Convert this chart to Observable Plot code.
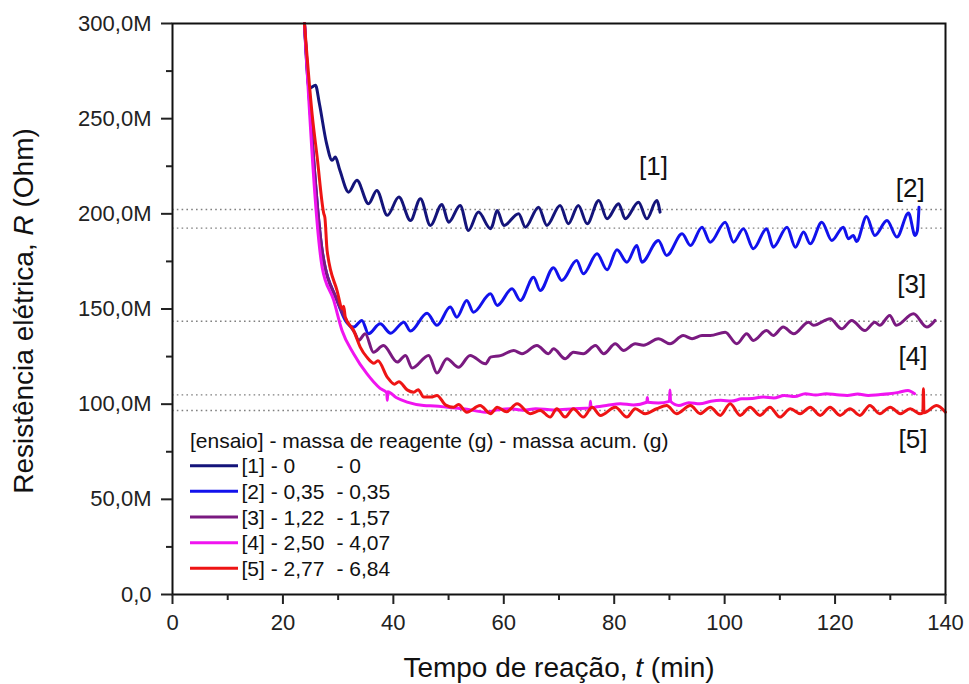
<!DOCTYPE html>
<html><head><meta charset="utf-8">
<script src="https://cdn.jsdelivr.net/npm/d3@7"></script>
<script src="https://cdn.jsdelivr.net/npm/@observablehq/plot@0.6"></script>
<style>body{margin:0;background:#fff} svg{display:block}</style>
</head><body><div id="chart"></div>
<script>
// ---- data (t in min, R in MOhm) ----
const s1T = [23.9,24.8,25.9,26.6,27.9,28.9,29.5,30.3,31.9,33.4,35.5,37.0,38.9,41.0,43.1,44.9,46.7,48.8,50.0,52.1,53.6,55.4,57.6,57.9,58.8,60.0,62.7,63.9,66.3,67.8,70.2,71.7,73.5,75.1,77.2,78.7,80.8,82.0,84.4,85.9,87.7,88.3];
const s1R = [300,266,267.5,258,237.0,228.1,229.8,223,211.4,217.6,205.3,212.3,199.2,208.8,196.5,207.9,193.9,204.9,195.6,204.4,191.3,200.9,192.2,193.5,201.8,193.9,200.1,193.0,203.5,193.9,204.4,194.8,204.4,194.8,207.0,197.4,205.3,197.4,206.1,197.4,207.0,200.9];

const s2T = [23.9,27.1,29.8,31.3,32.8,34.3,35.5,37.6,39.5,41.9,43.1,46.1,47.9,50.3,51.5,53.3,54.5,57.6,58.8,61.5,63.0,65.4,66.6,69.0,70.5,73.2,74.4,76.9,78.7,80.5,82.3,84.1,85.0,88.0,89.5,92.3,93.8,95.9,97.4,100.1,101.6,103.4,105.2,107.6,108.8,111.3,112.8,114.3,115.5,117.6,119.4,121.5,122.4,123.3,123.9,125.7,127.2,129.4,131.2,133.3,134.5,134.9,135.2];
const s2R = [300,180.8,154.5,144.0,140.5,144.0,137.0,142.2,137.3,143.1,138.4,147.8,141.4,151.0,145.7,154.5,148.3,158.0,151.9,160.6,154.5,166.7,159.7,171.7,165.0,175.5,168.5,179.0,170.6,181.1,174.6,183.4,174.6,186.0,178.1,189.5,183.4,193.0,185.1,195.6,185.1,192.2,181.7,192.2,182.5,193.0,182.5,190.4,184.3,195.6,186.0,193.0,186.9,188.6,185.5,198.6,188.6,196.5,187.8,200.4,188.6,191,203.4];

const s3T = [23.9,27.1,29.8,31.6,33.1,33.7,34.9,36.4,38.2,40.7,42.2,43.4,46.4,47.9,49.7,51.8,53.9,56.7,57.6,59.4,61.8,63.3,66.0,68.1,69.0,71.1,72.6,74.4,76.6,78.1,80.2,81.7,83.8,85.3,88.0,90.1,92.5,94.1,95.9,97.4,100.1,102.2,104.0,105.2,107.6,108.8,110.6,112.5,115.2,116.1,119.1,121.2,123.0,125.4,127.2,128.1,129.9,131.1,134.2,136.6,138.1];
const s3R = [300,180.8,154.5,143.5,137.0,133.5,137.0,127.3,130.8,122.1,125.6,119.0,125.6,116.4,123.9,119.4,125.6,121.2,124.7,125.5,128.2,126.5,130.8,126.5,129.1,123.9,127.3,126.5,130.8,126.5,131.7,128.2,131.7,131.0,134.4,131.7,136.1,134.4,136.1,136.1,137.8,131.7,137.0,133.5,138.7,136.1,140.5,137.0,143.1,141.4,144.9,139.6,144.0,138.7,143.1,141.4,146.6,141.4,147.5,140.5,144.0];

const s4T = [23.9,27.1,29.2,30.7,32.8,35.2,37.6,38.8,38.9,39.0,40.5,42.5,45.5,47.5,49.8,53.0,56.7,59.0,61.2,63.5,65.8,69.0,72.7,75.6,75.7,75.8,76.5,78.8,81.1,83.5,85.9,86.0,86.1,88.0,90.0,90.1,90.2,91.7,93.5,95.5,97.5,99.3,101.2,103.1,105.0,107.0,108.9,110.8,112.7,114.6,116.5,118.4,120.3,122.2,124.1,126.0,127.9,129.8,131.5,133.2,134.4];
const s4R = [300,172.0,154.5,138.7,126.5,116.0,108.3,106.0,102.0,106.5,103.5,101.1,99.3,99.0,98.4,97.5,95.8,97.0,97.6,96.8,97.6,97.0,97.6,98.0,101.5,98.0,98.4,99.4,100.2,99.6,101.0,103.5,101.0,100.6,101.5,107.5,101.5,99.3,100.8,100.2,101.5,102.0,101.6,102.8,103.0,103.7,103.2,104.6,104.0,105.5,104.8,105.5,105.0,104.6,105.3,104.6,105.0,105.5,106.2,107.2,105.5];

const s5T = [23.9,25.3,26.2,27.4,27.6,28.0,29.8,30.8,31.0,31.3,32.8,34.0,35.2,36.5,37.2,38.9,40.2,41.0,42.5,43.7,44.5,45.5,46.8,47.9,49.5,50.9,51.8,53.3,55.7,57.6,58.8,60.5,62.4,64.8,66.6,68.4,69.6,71.1,72.6,74.4,76.0,77.5,80.2,82.3,83.8,85.6,87.7,89.5,91.3,93.8,95.6,97.4,99.2,101.0,102.8,104.6,106.4,108.2,110.0,111.9,113.7,115.5,117.3,119.1,120.9,122.7,124.5,126.3,128.1,130.0,131.8,133.6,135.4,135.9,136.0,136.1,138.4,140.0];
const s5R = [300,252,229.8,200.1,198,180.8,159.7,150,151.5,145.7,138.7,130.0,124.7,121.5,122.8,114.2,110.5,111.8,107.5,106.3,107.6,103.7,103.7,104.6,99.5,98.4,99.8,95.8,99.3,95.0,98.4,96.0,100.2,95.0,96.7,93.2,97.6,93.2,97.6,93.2,98.4,94.1,98.4,93.2,97.6,95.0,97.6,99.3,95.0,99.3,95.0,98.4,94.1,100.2,94.1,98.4,94.1,98.4,93.2,97.6,95.0,98.4,94.1,98.4,94.1,97.6,94.1,99.3,95.0,98.4,95.0,97.6,95.0,95.5,108.1,95.5,99.3,95.8];

const refLines = [202.3, 192.5, 143.6, 104.9, 96.7];
const yMajor = [0, 50, 100, 150, 200, 250, 300];
const yMinor = [25, 75, 125, 175, 225, 275];
const xMajor = [0, 20, 40, 60, 80, 100, 120, 140];
const xMinor = [10, 30, 50, 70, 90, 110, 130];
const seriesNames = ["[1]", "[2]", "[3]", "[4]", "[5]"];
const massaReagente = ["0", "0,35", "1,22", "2,50", "2,77"];
const massaAcum = ["0", "0,35", "1,57", "4,07", "6,84"];
const colors = ["#14147a", "#1212ec", "#7a1a80", "#f014f0", "#ee1414"];
const labelT = [87.1, 133.6, 133.9, 134.1, 134.1];
const labelR = [224.6, 213.1, 162.6, 124.8, 81.5];

const toRows = (T, R) => T.map((t, i) => ({t, R: R[i]}));
const series = [toRows(s1T, s1R), toRows(s2T, s2R), toRows(s3T, s3R), toRows(s4T, s4R), toRows(s5T, s5R)];

const font = "'Liberation Sans', Arial, Helvetica, sans-serif";
const chart = Plot.plot({
  width: 969, height: 684,
  marginLeft: 172, marginRight: 24, marginTop: 23, marginBottom: 90,
  style: {fontFamily: font, background: "#fff", color: "#222"},
  x: {domain: [0, 140]},
  y: {domain: [0, 300]},
  marks: [
    Plot.ruleY(refLines, {stroke: "#808080", strokeWidth: 1.4, strokeDasharray: "1.6,3.2"}),
    ...series.map((d, i) => Plot.line(d, {x: "t", y: "R", stroke: colors[i], strokeWidth: 3, curve: "monotone-x"})),
    Plot.text(seriesNames.map((s, i) => ({s, t: labelT[i], R: labelR[i]})), {x: "t", y: "R", text: "s", fontSize: 26, fill: "#111"}),
    Plot.frame({stroke: "#111", strokeWidth: 2}),
    Plot.axisY(yMajor, {tickSize: 11, tickPadding: 10, tickFormat: d => d === 0 ? "0,0" : d + ",0M", fontSize: 22, strokeWidth: 2, label: null}),
    Plot.axisY(yMinor, {tickSize: 6, tickFormat: () => "", strokeWidth: 2, label: null}),
    Plot.axisX(xMajor, {tickSize: 10, tickPadding: 10, fontSize: 22, strokeWidth: 2, label: null}),
    Plot.axisX(xMinor, {tickSize: 6, tickFormat: () => "", strokeWidth: 2, label: null})
  ]
});
document.getElementById("chart").appendChild(chart);

// ---- legend and axis titles ----
const svg = d3.select(chart);
const lg = svg.append("g").attr("font-family", font).attr("font-size", 21).attr("fill", "#111").attr("text-anchor", "start");
lg.append("text").attr("x", 190).attr("y", 448).text("[ensaio] - massa de reagente (g) - massa acum. (g)");
seriesNames.forEach((s, i) => {
  const cy = 465.7 + i * 25.65;
  lg.append("line").attr("x1", 190).attr("x2", 238).attr("y1", cy).attr("y2", cy)
    .attr("stroke", colors[i]).attr("stroke-width", 3);
  lg.append("text").attr("x", 241.5).attr("y", cy + 7.5).text(s + " - " + massaReagente[i]);
  lg.append("text").attr("x", 336.5).attr("y", cy + 7.5).text("- " + massaAcum[i]);
});

const xt = svg.append("text").attr("font-family", font).attr("font-size", 28).attr("fill", "#111")
  .attr("text-anchor", "middle").attr("x", 559).attr("y", 677);
xt.append("tspan").text("Tempo de reação, ");
xt.append("tspan").attr("font-style", "italic").text("t");
xt.append("tspan").text(" (min)");

const yt = svg.append("text").attr("font-family", font).attr("font-size", 28).attr("fill", "#111")
  .attr("text-anchor", "middle").attr("transform", "translate(33,311) rotate(-90)");
yt.append("tspan").text("Resistência elétrica, ");
yt.append("tspan").attr("font-style", "italic").text("R");
yt.append("tspan").text(" (Ohm)");
</script>
</body></html>
